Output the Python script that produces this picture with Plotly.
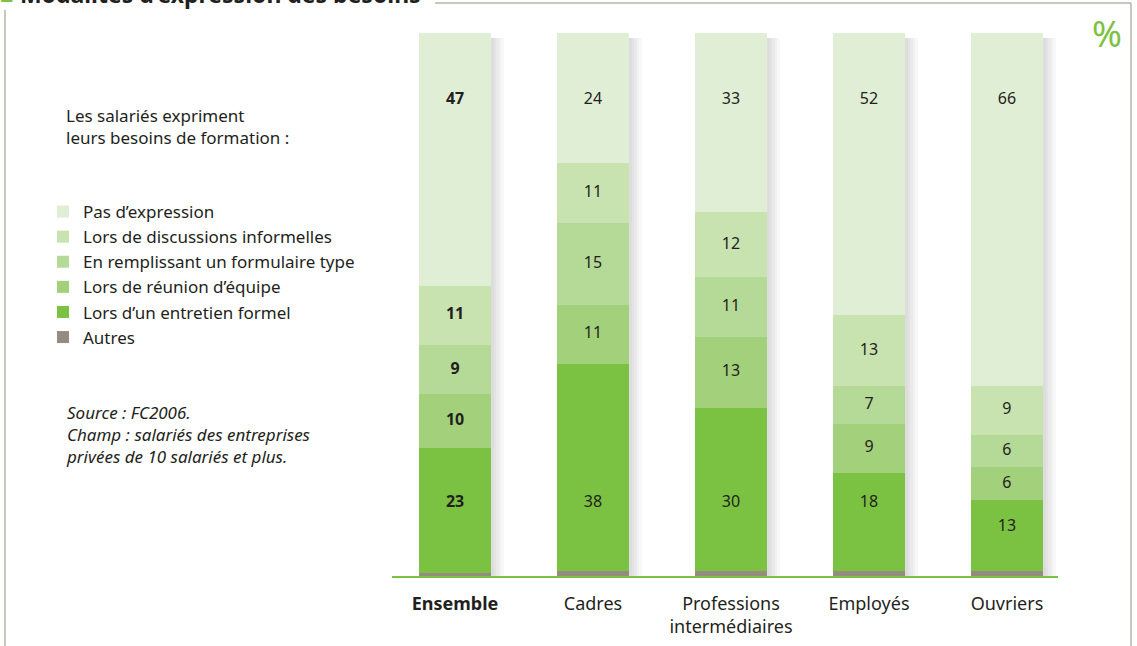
import plotly.graph_objects as go

categories = ["Ensemble", "Cadres", "Professions intermédiaires", "Employés", "Ouvriers"]
tick_labels = ["<b>Ensemble</b>", "Cadres", "Professions<br>intermédiaires", "Employés", "Ouvriers"]

series_names = [
    "Autres",
    "Lors d’un entretien formel",
    "Lors de réunion d’équipe",
    "En remplissant un formulaire type",
    "Lors de discussions informelles",
    "Pas d’expression",
]
autres = [0.5, 1, 1, 1, 1]
entretien = [23, 38, 30, 18, 13]
reunion = [10, 11, 13, 9, 6]
formulaire = [9, 15, 11, 7, 6]
discussions = [11, 11, 12, 13, 9]
pas_expression = [47, 24, 33, 52, 66]

series_values = [autres, entretien, reunion, formulaire, discussions, pas_expression]
colors = ["#968b80", "#7bc142", "#a3d07a", "#b5da97", "#c8e2b0", "#e1eed6"]

TXT = "#231f20"
GREEN = "#7bc142"
FONT = "'Noto Sans', 'Open Sans', sans-serif"
BAR_W = 0.52
CAT_PX = 138.0

fig = go.Figure()

# soft drop shadow behind the bars (drawn on the base axis)
for k in range(5):
    fig.add_trace(go.Bar(
        x=categories, y=[99 + 1.2 + 0.9 * k] * len(categories), base=[-1.2 - 0.9 * k] * len(categories),
        width=BAR_W + (2 + 2.5 * k) / CAT_PX, offset=-BAR_W / 2 + 1 / CAT_PX,
        marker=dict(color="rgba(70,70,85,0.04)", line=dict(width=0)),
        cliponaxis=False, showlegend=False, hoverinfo="skip",
    ))

for name, vals, col in zip(series_names, series_values, colors):
    fig.add_trace(go.Bar(
        x=categories, y=vals, name=name, xaxis="x2", yaxis="y",
        marker=dict(color=col, line=dict(width=0)),
        width=BAR_W,
        hoverinfo="skip",
    ))

# value labels (placement rule: top segment at fixed level, bottom segment low, others centred)
lab_x, lab_y, lab_t = [], [], []
for i, cat in enumerate(categories):
    base = 0.0
    for k, vals in enumerate(series_values):
        v = vals[i]
        top = base + v
        if k > 0:
            if k == len(series_values) - 1:
                y = 87.7
            elif k == 1:
                y = min(13.5, top - 5)
            else:
                y = base + v / 2
            txt = f"{v:g}"
            if i == 0:
                txt = f"<b>{txt}</b>"
            lab_x.append(cat)
            lab_y.append(y)
            lab_t.append(txt)
        base = top

fig.add_trace(go.Scatter(
    x=lab_x, y=lab_y, text=lab_t, mode="text", xaxis="x2", yaxis="y",
    textfont=dict(size=16, color=TXT, family=FONT),
    showlegend=False, hoverinfo="skip",
))

# marker triangle under "Ensemble"
fig.add_trace(go.Scatter(
    x=[categories[0]], y=[-10.5], mode="markers", xaxis="x2", yaxis="y",
    marker=dict(symbol="triangle-up", size=30, color=GREEN),
    cliponaxis=False, showlegend=False, hoverinfo="skip",
))

L, R, T, B = 392, 79, 33, 70
W, H = 1137, 646
pw, ph = W - L - R, H - T - B

def px(x):
    return (x - L) / pw

def py(y):
    return (H - B - y) / ph

frame = dict(color="#b7b6aa", width=1.5)
shapes = [
    dict(type="line", xref="paper", yref="paper", x0=px(5), x1=px(5), y0=py(10), y1=py(650), line=frame),
    dict(type="line", xref="paper", yref="paper", x0=px(435), x1=px(1131), y0=py(3), y1=py(3), line=frame),
    dict(type="line", xref="paper", yref="paper", x0=px(1131), x1=px(1131), y0=py(3), y1=py(650), line=frame),
]

note_font = dict(size=17, color=TXT, family=FONT)
annotations = [
    dict(xref="paper", yref="paper", x=px(-2), y=py(-6), xanchor="left", yanchor="middle",
         text="<span style='color:#7bc142'>■</span> <b>Modalités d’expression des besoins</b>",
         showarrow=False, font=dict(size=23, color=TXT, family=FONT)),
    dict(xref="paper", yref="paper", x=px(64), y=py(126), xanchor="left", yanchor="middle",
         text="Les salariés expriment<br>leurs besoins de formation :", align="left",
         showarrow=False, font=note_font),
    dict(xref="paper", yref="paper", x=px(64), y=py(434), xanchor="left", yanchor="middle",
         text="<i>Source : FC2006.<br>Champ : salariés des entreprises<br>privées de 10 salariés et plus.</i>",
         align="left", showarrow=False, font=note_font),
    dict(xref="paper", yref="paper", x=px(1107), y=py(33), xanchor="center", yanchor="middle",
         text="%", showarrow=False, font=dict(size=36, color=GREEN, family=FONT)),
]

xcommon = dict(
    type="category", categoryorder="array", categoryarray=categories,
    range=[-0.457, 4.37], showgrid=False, zeroline=False, automargin=False,
)

fig.update_layout(
    width=W, height=H,
    margin=dict(l=L, r=R, t=T, b=B, pad=0, autoexpand=False),
    barmode="stack",
    plot_bgcolor="white", paper_bgcolor="white",
    font=dict(family=FONT, color=TXT),
    showlegend=True,
    legend=dict(
        traceorder="reversed",
        x=px(43), y=py(194), xanchor="left", yanchor="top",
        font=dict(size=17, color=TXT, family=FONT),
        bgcolor="rgba(0,0,0,0)", tracegroupgap=0,
        itemclick=False, itemdoubleclick=False,
    ),
    xaxis=dict(
        **xcommon,
        tickmode="array", tickvals=categories, ticktext=tick_labels,
        showline=False,
        ticks="outside", ticklen=11, tickcolor="rgba(0,0,0,0)",
        tickfont=dict(size=18, color=TXT, family=FONT),
    ),
    xaxis2=dict(
        **xcommon, overlaying="x", anchor="y", visible=True,
        showticklabels=False, ticks="",
        showline=True, linecolor=GREEN, linewidth=1.5, side="bottom",
    ),
    yaxis=dict(range=[0, 100], visible=False, showgrid=False, zeroline=False,
               fixedrange=True, automargin=False),
    shapes=shapes,
    annotations=annotations,
)

fig.write_html("out.html")
